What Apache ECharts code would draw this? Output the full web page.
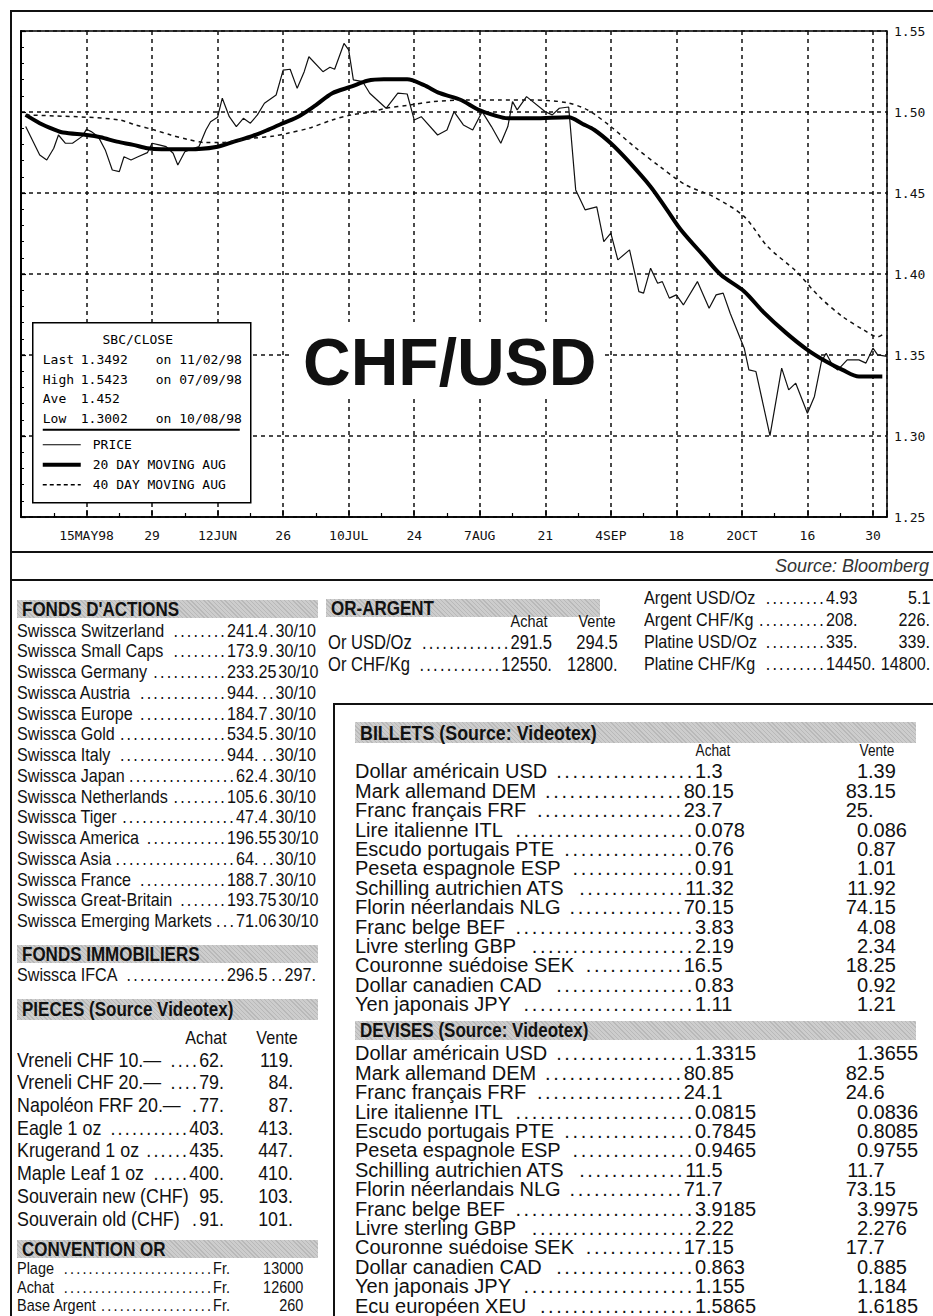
<!DOCTYPE html>
<html>
<head>
<meta charset="utf-8">
<script src="https://cdn.jsdelivr.net/npm/echarts@6/dist/echarts.min.js"></script>
<style>
  body { margin: 0; background: #fff; width: 933px; height: 1316px; overflow: hidden; position: relative; color: #111; }
  #chart { position: absolute; left: 11px; top: 11px; width: 922px; height: 541px; }
</style>
</head>
<body>
<div id="chart"></div>
<div id="page"></div>
<script>
// ---- chart data (day 0 = 1 May 1998) ----
const tickDays = [14, 28, 42, 56, 70, 84, 98, 112, 126, 140, 154, 168, 182];
const tickLabels = ['15MAY98', '29', '12JUN', '26', '10JUL', '24', '7AUG', '21', '4SEP', '18', '2OCT', '16', '30'];

const priceDay = [1, 4, 5.5, 7, 8, 9.5, 11, 13, 14, 15, 16.5, 18, 19.5, 21, 22, 23.5, 25, 27, 28, 29.5, 31, 32.5, 33.5, 35, 36, 38, 39.5, 40.5, 42, 43, 44.5, 46, 47.5, 49, 50.5, 52, 54.5, 56, 57.5, 59, 60.5, 61.5, 64.5, 66, 67, 69, 70, 71, 73, 74.5, 78, 80.5, 82.5, 84, 85.5, 89, 91, 92.5, 94.5, 96.5, 98.5, 100.5, 102.5, 104, 105, 106, 108, 112, 113.5, 115, 117, 118.5, 120.5, 123, 124.5, 126, 127.5, 130, 132, 133, 134.5, 136, 137, 138.5, 140, 141.5, 144.5, 147, 148.5, 150, 151.5, 154.5, 155.5, 157, 160, 162.5, 164, 165.5, 168, 169.5, 171, 172, 173.5, 174.5, 176.5, 179, 180.5, 182, 183, 185];
const priceVal = [1.491, 1.4735, 1.4704, 1.4776, 1.4858, 1.4807, 1.4807, 1.4848, 1.4893, 1.4879, 1.4848, 1.4766, 1.4642, 1.4632, 1.4724, 1.4704, 1.4724, 1.4749, 1.4807, 1.4797, 1.4786, 1.4745, 1.4673, 1.4755, 1.4766, 1.4786, 1.4889, 1.494, 1.4968, 1.5085, 1.4971, 1.491, 1.4961, 1.4931, 1.4982, 1.5054, 1.5105, 1.5259, 1.5264, 1.5146, 1.5249, 1.5341, 1.5249, 1.5276, 1.5264, 1.5423, 1.5383, 1.5198, 1.5187, 1.5116, 1.5023, 1.5116, 1.5111, 1.4951, 1.4971, 1.4858, 1.4889, 1.5002, 1.492, 1.4889, 1.5002, 1.491, 1.4807, 1.491, 1.5064, 1.5013, 1.5095, 1.5002, 1.4982, 1.5023, 1.5031, 1.4519, 1.4396, 1.4414, 1.42, 1.4252, 1.4087, 1.4149, 1.3891, 1.3882, 1.4036, 1.3943, 1.3953, 1.3851, 1.3871, 1.3809, 1.3953, 1.3789, 1.3871, 1.3882, 1.3758, 1.3542, 1.3408, 1.3398, 1.3002, 1.3419, 1.3285, 1.3326, 1.3141, 1.3244, 1.346, 1.3511, 1.3429, 1.3408, 1.347, 1.347, 1.345, 1.3542, 1.3501, 1.3492];

const ma20Day = [1, 4, 7, 9, 14, 17, 20.5, 24, 27, 30, 34, 38, 42, 45.5, 49.5, 53, 56, 59.5, 63, 66.5, 70.5, 74, 77.5, 82.5, 86, 89.5, 94, 97.5, 101.5, 104, 109.5, 117, 120, 122.5, 126, 129.5, 134.5, 138, 141, 146, 149.5, 154.5, 158.5, 163.5, 168, 172, 175.5, 179, 184];
const ma20Val = [1.4982, 1.4931, 1.4893, 1.4873, 1.4858, 1.4844, 1.4817, 1.4797, 1.4776, 1.477, 1.477, 1.4772, 1.4786, 1.4817, 1.4852, 1.4893, 1.4931, 1.4976, 1.5043, 1.5116, 1.5156, 1.5193, 1.5202, 1.5202, 1.5167, 1.5116, 1.5074, 1.5017, 1.4976, 1.4961, 1.4961, 1.4968, 1.4926, 1.4889, 1.4807, 1.4704, 1.4539, 1.4396, 1.4272, 1.4107, 1.3995, 1.3892, 1.3768, 1.3635, 1.3532, 1.346, 1.3408, 1.3367, 1.3367];

const ma40Day = [1, 7, 14, 21, 24.5, 28.5, 32, 35.5, 39.5, 42.5, 46, 49.5, 54, 57, 61.5, 66.5, 70.5, 74, 78, 83, 88, 95, 102, 109.5, 116.5, 121, 126, 131, 136.5, 142, 148, 154.5, 159.5, 165.5, 170.5, 175.5, 180, 183, 184];
const ma40Val = [1.4982, 1.4976, 1.4968, 1.4951, 1.492, 1.4889, 1.4858, 1.4832, 1.4811, 1.4811, 1.4823, 1.4838, 1.4852, 1.4869, 1.49, 1.4951, 1.4982, 1.4996, 1.5023, 1.5043, 1.5064, 1.5074, 1.5074, 1.5074, 1.5058, 1.5013, 1.491, 1.4786, 1.4663, 1.455, 1.4476, 1.4354, 1.4169, 1.4019, 1.3861, 1.3737, 1.3655, 1.3612, 1.3625];

const statNames = ['Last', 'High', 'Ave', 'Low'];
const statValues = ['1.3492', '1.5423', '1.452', '1.3002'];
const statDates = ['on 11/02/98', 'on 07/09/98', '', 'on 10/08/98'];
const legendNames = ['PRICE', '20 DAY MOVING AUG', '40 DAY MOVING AUG'];

// ---- table data ----
const fondsNames = ['Swissca Switzerland', 'Swissca Small Caps', 'Swissca Germany', 'Swissca Austria', 'Swissca Europe', 'Swissca Gold', 'Swissca Italy', 'Swissca Japan', 'Swissca Netherlands', 'Swissca Tiger', 'Swissca America', 'Swissca Asia', 'Swissca France', 'Swissca Great-Britain', 'Swissca Emerging Markets'];
const fondsValues = ['241.4', '173.9', '233.25', '944.', '184.7', '534.5', '944.', '62.4', '105.6', '47.4', '196.55', '64.', '188.7', '193.75', '71.06'];
const fondsDate = '30/10';
const immoNames = ['Swissca IFCA'];
const immoValues = ['296.5'];
const immoSecond = ['297.'];
const piecesNames = ['Vreneli CHF 10.—', 'Vreneli CHF 20.—', 'Napoléon FRF 20.—', 'Eagle 1 oz', 'Krugerand 1 oz', 'Maple Leaf 1 oz', 'Souverain new (CHF)', 'Souverain old (CHF)'];
const piecesAchat = ['62.', '79.', '77.', '403.', '435.', '400.', '95.', '91.'];
const piecesVente = ['119.', '84.', '87.', '413.', '447.', '410.', '103.', '101.'];
const convNames = ['Plage', 'Achat', 'Base Argent'];
const convValues = ['13000', '12600', '260'];
const orNames = ['Or USD/Oz', 'Or CHF/Kg'];
const orAchat = ['291.5', '12550.'];
const orVente = ['294.5', '12800.'];
const metalNames = ['Argent USD/Oz', 'Argent CHF/Kg', 'Platine USD/Oz', 'Platine CHF/Kg'];
const metalAchat = ['4.93', '208.', '335.', '14450.'];
const metalVente = ['5.1', '226.', '339.', '14800.'];
const currNames = ['Dollar américain USD', 'Mark allemand DEM', 'Franc français FRF', 'Lire italienne ITL', 'Escudo portugais PTE', 'Peseta espagnole ESP', 'Schilling autrichien ATS', 'Florin néerlandais NLG', 'Franc belge BEF', 'Livre sterling GBP', 'Couronne suédoise SEK', 'Dollar canadien CAD', 'Yen japonais JPY', 'Ecu européen XEU'];
const billetsAchat = ['1.3', '80.15', '23.7', '0.078', '0.76', '0.91', '11.32', '70.15', '3.83', '2.19', '16.5', '0.83', '1.11'];
const billetsVente = ['1.39', '83.15', '25.', '0.086', '0.87', '1.01', '11.92', '74.15', '4.08', '2.34', '18.25', '0.92', '1.21'];
const devisesAchat = ['1.3315', '80.85', '24.1', '0.0815', '0.7845', '0.9465', '11.5', '71.7', '3.9185', '2.22', '17.15', '0.863', '1.155', '1.5865'];
const devisesVente = ['1.3655', '82.5', '24.6', '0.0836', '0.8085', '0.9755', '11.7', '73.15', '3.9975', '2.276', '17.7', '0.885', '1.184', '1.6185'];

const MONO = '"DejaVu Sans Mono","Liberation Mono",monospace';
const SANS = '"Liberation Sans",Arial,sans-serif';
const K = 0.85; // horizontal squeeze for the condensed newspaper face

// ---- chart ----
const zip = (a, b) => a.map((d, i) => [d, b[i]]);
const chart = echarts.init(document.getElementById('chart'), null, { renderer: 'svg' });

const boxItems = [
  { type: 'rect', z: 100, shape: { x: 0, y: 0, width: 218, height: 180 }, style: { fill: '#fff', stroke: '#000', lineWidth: 1.5 } },
  { type: 'text', z: 101, style: { text: 'SBC/CLOSE', x: 105, y: 17, font: '13px ' + MONO, fill: '#000', align: 'center', textAlign: 'center', verticalAlign: 'middle', textVerticalAlign: 'middle' } },
  { type: 'line', z: 101, shape: { x1: 10, y1: 107, x2: 207, y2: 107 }, style: { stroke: '#000', lineWidth: 2 } }
];
const mono = (t, x, y) => ({ type: 'text', z: 101, style: { text: t, x: x, y: y, font: '13px ' + MONO, fill: '#000', verticalAlign: 'middle', textVerticalAlign: 'middle' } });
statNames.forEach((n, i) => {
  const y = 37 + i * 19.5;
  boxItems.push(mono(n, 10, y), mono(statValues[i], 48, y));
  if (statDates[i]) boxItems.push(mono(statDates[i], 123, y));
});
const legendStyles = [{ lineWidth: 1.2 }, { lineWidth: 4 }, { lineWidth: 1.5, lineDash: [4, 3] }];
legendNames.forEach((n, i) => {
  const y = 122 + i * 20;
  boxItems.push({ type: 'line', z: 101, shape: { x1: 10, y1: y, x2: 48, y2: y }, style: Object.assign({ stroke: '#000' }, legendStyles[i]) });
  boxItems.push(mono(n, 60, y));
});

chart.setOption({
  animation: false,
  grid: { left: 10, top: 20, width: 866, height: 486, show: true, borderColor: '#000', borderWidth: 1.5 },
  xAxis: {
    type: 'value', min: 0, max: 185, interval: 14,
    axisLine: { show: true, lineStyle: { color: '#000', width: 1.5 } },
    axisTick: { show: true, inside: true, length: 7, lineStyle: { color: '#000', width: 1.5 } },
    minorTick: { show: true, splitNumber: 2, length: 4, lineStyle: { color: '#000', width: 1.2 } },
    splitLine: { show: true, lineStyle: { color: '#111', width: 1.5, type: [4, 4] } },
    axisLabel: {
      margin: 12, fontFamily: MONO, fontSize: 13, color: '#111', showMinLabel: true, showMaxLabel: true,
      formatter: v => { const i = tickDays.indexOf(Math.round(v)); return i >= 0 ? tickLabels[i] : ''; }
    }
  },
  yAxis: {
    type: 'value', position: 'right', min: 1.25, max: 1.55, interval: 0.05,
    axisLine: { show: true, lineStyle: { color: '#000', width: 2 } },
    axisTick: { show: true, length: 5, lineStyle: { color: '#000', width: 1.2 } },
    minorTick: { show: true, splitNumber: 5, length: 3, lineStyle: { color: '#000', width: 1 } },
    splitLine: { show: true, lineStyle: { color: '#111', width: 1.5, type: [4, 4] } },
    axisLabel: { margin: 7, fontFamily: MONO, fontSize: 13, color: '#111', formatter: v => v.toFixed(2) }
  },
  series: [
    { name: 'PRICE', type: 'line', data: zip(priceDay, priceVal), symbol: 'none', lineStyle: { color: '#111', width: 1.2 } },
    { name: '20 DAY', type: 'line', data: zip(ma20Day, ma20Val), symbol: 'none', smooth: 0.3, lineStyle: { color: '#000', width: 4 } },
    { name: '40 DAY', type: 'line', data: zip(ma40Day, ma40Val), symbol: 'none', smooth: 0.3, lineStyle: { color: '#111', width: 1.5, type: [4, 4] } }
  ],
  graphic: [
    { type: 'group', left: 21, top: 311, z: 100, children: boxItems },
    {
      type: 'group', left: 282, top: 311, z: 100,
      children: [
        { type: 'rect', z: 100, shape: { x: 0, y: 0, width: 312, height: 76 }, style: { fill: '#fff' } },
        { type: 'text', z: 101, style: { text: 'CHF/USD', x: 10, y: 40, font: 'bold 66px ' + SANS, fill: '#111', verticalAlign: 'middle', textVerticalAlign: 'middle' } }
      ]
    }
  ]
});

// ---- page furniture and tables ----
const page = document.getElementById('page');
function el(style, text) {
  const e = document.createElement('div');
  Object.assign(e.style, { position: 'absolute', whiteSpace: 'nowrap' }, style);
  if (text != null) e.textContent = text;
  page.appendChild(e);
  return e;
}
function line(x0, y0, w, h) { el({ left: x0 + 'px', top: y0 + 'px', width: w + 'px', height: h + 'px', background: '#111' }); }
function header(txt, x0, x1, y0, y1, size) {
  el({ left: x0 + 'px', top: y0 + 'px', width: (x1 - x0) + 'px', height: (y1 - y0) + 'px',
       background: 'repeating-linear-gradient(45deg,#b9b9b9 0 1px,#cdcdcd 1px 3px)' });
  el({ left: (x0 + 5) + 'px', top: y0 + 'px', height: (y1 - y0) + 'px', lineHeight: (y1 - y0) + 'px',
       fontFamily: SANS, fontWeight: 'bold', fontSize: size + 'px', color: '#111',
       transform: 'scaleX(' + K + ')', transformOrigin: '0 50%' }, txt);
}
// single text; narrow = squeezed condensed face
function text(txt, x, cy, align, size, lh, narrow) {
  const s = { top: (cy - lh / 2) + 'px', height: lh + 'px', lineHeight: lh + 'px', fontFamily: SANS, fontSize: size + 'px' };
  if (align === 'right') { s.right = (933 - x) + 'px'; s.transformOrigin = '100% 50%'; }
  else if (align === 'center') { s.left = (x - 60) + 'px'; s.width = '120px'; s.textAlign = 'center'; s.transformOrigin = '50% 50%'; }
  else { s.left = x + 'px'; s.transformOrigin = '0 50%'; }
  if (narrow) s.transform = 'scaleX(' + K + ')';
  return el(s, txt);
}
// name ........ value, filling exactly from x0 to x1
function row(left, right, x0, x1, cy, size, lh, narrow, gap) {
  const k = narrow ? K : 1;
  const d = el({ left: x0 + 'px', top: (cy - lh / 2) + 'px', width: ((x1 - x0) / k) + 'px', height: lh + 'px', lineHeight: lh + 'px',
                 display: 'flex', fontFamily: SANS, fontSize: size + 'px', transform: 'scaleX(' + k + ')', transformOrigin: '0 50%' });
  const a = document.createElement('span'); a.textContent = left; a.style.flex = 'none'; d.appendChild(a);
  const dots = document.createElement('span');
  Object.assign(dots.style, { flex: '1 1 0', minWidth: '0', textAlign: 'right', letterSpacing: '2.6px', marginLeft: (gap || 5) + 'px' });
  d.appendChild(dots);
  const b = document.createElement('span'); b.textContent = right; b.style.flex = 'none'; d.appendChild(b);
  // dot pitch for this size
  const probe = document.createElement('span');
  Object.assign(probe.style, { letterSpacing: '2.6px', position: 'absolute', visibility: 'hidden' });
  probe.textContent = '.'.repeat(40);
  d.appendChild(probe);
  const pitch = probe.offsetWidth / 40;
  d.removeChild(probe);
  const n = Math.max(0, Math.floor(dots.offsetWidth / pitch));
  dots.textContent = '.'.repeat(n);
}
const splitDec = v => { const i = v.indexOf('.'); return i < 0 ? [v, ''] : [v.slice(0, i), v.slice(i)]; };

// frame
line(11, 10, 922, 2);
line(10, 10, 2, 1306);
line(11, 551, 922, 2);
line(11, 579, 922, 2);
el({ right: '4px', top: '555px', height: '22px', lineHeight: '22px', fontFamily: SANS, fontStyle: 'italic', fontSize: '18px', color: '#333' }, 'Source: Bloomberg');

// left column
header("FONDS D'ACTIONS", 17, 318, 600, 618, 20);
fondsNames.forEach((n, i) => {
  const cy = 631 + i * 20.75;
  const p = splitDec(fondsValues[i]);
  row(n, p[0], 17, 254, cy, 19, 20.75, true);
  row(p[1], fondsDate, 254, 316, cy, 19, 20.75, true, 2);
});
header('FONDS IMMOBILIERS', 17, 318, 945, 963, 20);
immoNames.forEach((n, i) => {
  const p = splitDec(immoValues[i]);
  row(n, p[0], 17, 254, 975, 19, 20.75, true);
  row(p[1], immoSecond[i], 254, 316, 975, 19, 20.75, true, 3);
});
header('PIECES (Source Videotex)', 17, 318, 999, 1020, 20);
text('Achat', 206, 1038, 'center', 19, 22, true);
text('Vente', 277, 1038, 'center', 19, 22, true);
piecesNames.forEach((n, i) => {
  const cy = 1060 + i * 22.7;
  row(n, piecesAchat[i], 17, 224, cy, 21, 22.7, true, 8);
  text(piecesVente[i], 293, cy, 'right', 21, 22.7, true);
});
header('CONVENTION OR', 17, 318, 1240, 1258, 20);
convNames.forEach((n, i) => {
  const cy = 1269 + i * 18.5;
  row(n, 'Fr.', 17, 230, cy, 17, 18, true);
  text(convValues[i], 303, cy, 'right', 17, 18, true);
});

// or-argent
header('OR-ARGENT', 326, 600, 599, 617, 20);
text('Achat', 547, 622, 'right', 17, 18, true);
text('Vente', 615, 622, 'right', 17, 18, true);
orNames.forEach((n, i) => {
  const cy = 642 + i * 22;
  row(n, orAchat[i], 328, 552, cy, 19.5, 21, true);
  text(orVente[i], 618, cy, 'right', 19.5, 21, true);
});
metalNames.forEach((n, i) => {
  const cy = 597 + i * 22.3;
  row(n, '', 644, 826, cy, 19, 21, true);
  text(metalAchat[i], 826, cy, 'left', 19, 21, true);
  text(metalVente[i], 930, cy, 'right', 19, 21, true);
});

// billets / devises box
line(333, 703, 600, 2);
line(333, 703, 2, 613);
function currencyBlock(achat, vente, y0) {
  achat.forEach((v, i) => {
    const cy = y0 + i * 19.4;
    const a = splitDec(v), b = splitDec(vente[i]);
    row(currNames[i], a[0], 355, 706, cy, 20, 19.4, false, 8);
    text(a[1], 706, cy, 'left', 20, 19.4, false);
    text(b[0], 868, cy, 'right', 20, 19.4, false);
    text(b[1], 868, cy, 'left', 20, 19.4, false);
  });
}
header('BILLETS (Source: Videotex)', 355, 916, 722, 743, 21);
text('Achat', 713, 750, 'center', 16, 13, true);
text('Vente', 877, 750, 'center', 16, 13, true);
currencyBlock(billetsAchat, billetsVente, 772);
header('DEVISES (Source: Videotex)', 355, 916, 1021, 1040, 20);
currencyBlock(devisesAchat, devisesVente, 1054);
</script>
</body>
</html>
